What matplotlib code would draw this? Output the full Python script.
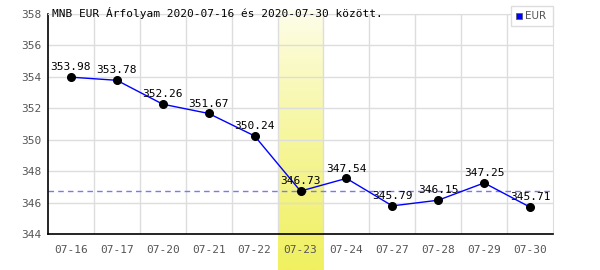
import numpy as np
import matplotlib
matplotlib.use('Agg')
from matplotlib import pyplot as plt
from matplotlib.patches import Rectangle

# data
dates = ['07-16', '07-17', '07-20', '07-21', '07-22', '07-23',
         '07-24', '07-27', '07-28', '07-29', '07-30']
rates = [353.98, 353.78, 352.26, 351.67, 350.24, 346.73,
         347.54, 345.79, 346.15, 347.25, 345.71]
highlight_idx = 5
title = 'MNB EUR Árfolyam 2020-07-16 és 2020-07-30 között.'
series_name = 'EUR'

plt.rcParams['font.family'] = ['DejaVu Sans Mono']

W, H = 600, 270
fig = plt.figure(figsize=(6, 2.7), dpi=100)
x0, x1, y0, y1 = 48, 553, 14, 234
ax = fig.add_axes([x0 / W, 1 - y1 / H, (x1 - x0) / W, (y1 - y0) / H])
ax.set_facecolor('none')
ax.set_zorder(2)

n = len(dates)
xs = np.arange(n)
ax.set_xlim(-0.5, n - 0.5)
ax.set_ylim(344, 358)

# gradient highlight column, runs down to figure bottom
col_w = (x1 - x0) / n
cx0 = x0 + col_w * highlight_idx
bg = fig.add_axes([cx0 / W, 0, col_w / W, 1 - 9 / H])
bg.set_zorder(1)
grad = np.linspace(0, 1, 256).reshape(-1, 1)
top = np.array([254, 254, 240]) / 255
bot = np.array([240, 240, 96]) / 255
img = top + (bot - top) * grad[:, :, None] ** 0.8
bg.imshow(img, aspect='auto', extent=[0, 1, 0, 1], origin='upper')
bg.axis('off')

# grid
ax.set_yticks(np.arange(344, 359, 2))
ax.set_xticks(xs)
ax.set_xticks(np.arange(0.5, n - 0.5, 1), minor=True)
ax.grid(True, which='major', axis='y', color='#dddddd', lw=1)
ax.grid(True, which='minor', axis='x', color='#dddddd', lw=1)
ax.tick_params(which='both', length=0)
ax.tick_params(axis='y', pad=5, labelsize=8, labelcolor='#555555')
ax.tick_params(axis='x', pad=8, labelsize=8, labelcolor='#555555')
ax.set_xticklabels(dates)
for s in ['top', 'right']:
    ax.spines[s].set_color('#dddddd')
for s in ['left', 'bottom']:
    ax.spines[s].set_color('black')
    ax.spines[s].set_linewidth(1.2)

ax.axhline(rates[highlight_idx], color='#7777ff', lw=1, ls=(0, (4, 3)))
ax.plot(xs, rates, color='#0000ff', lw=1, marker='o', ms=5.5,
        mfc='black', mec='black', zorder=3)
for x, v in zip(xs, rates):
    ax.annotate('%.2f' % v, (x, v), xytext=(0, 3.5), textcoords='offset points',
                ha='center', va='bottom', fontsize=8, color='black')

fig.text(52 / W, 1 - 13 / H, title, fontsize=8, color='black',
         ha='left', va='center')

# legend box
lg = Rectangle((511 / W, 1 - 26 / H), 42 / W, 20 / H, transform=fig.transFigure,
               facecolor='white', edgecolor='#dddddd', lw=1, zorder=5)
fig.patches.append(lg)
sq = Rectangle((516 / W, 1 - 19 / H), 6 / W, 6 / H, transform=fig.transFigure,
               facecolor='#0000ff', edgecolor='#555555', lw=0.5, zorder=6)
fig.patches.append(sq)
fig.text(525 / W, 1 - 16 / H, series_name, fontsize=7.5, color='#555555',
         ha='left', va='center', family='DejaVu Sans', zorder=6)

fig.savefig('out.png', dpi=100)
